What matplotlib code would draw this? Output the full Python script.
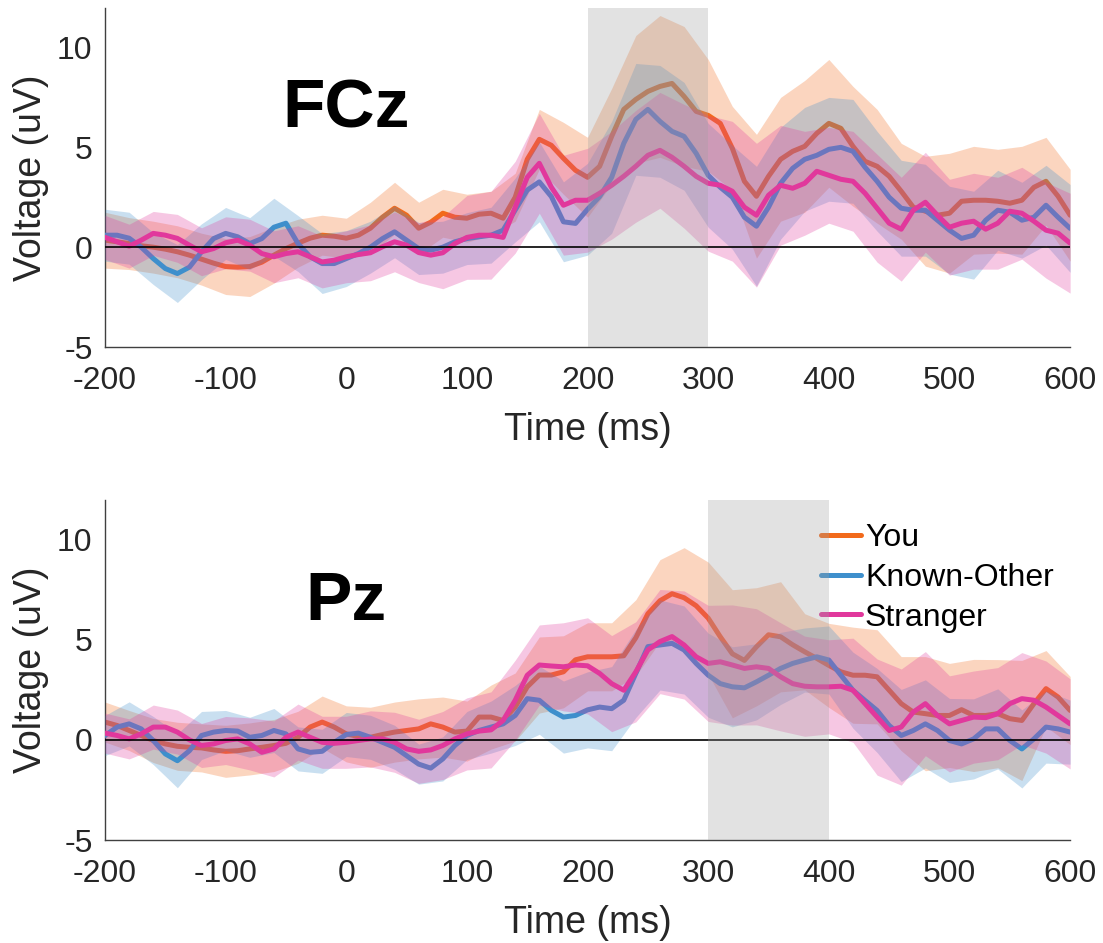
"""ERP waveforms at FCz and Pz for three conditions"""
import matplotlib
matplotlib.use('Agg')
import matplotlib.pyplot as plt

plt.rcParams['font.family'] = ['Liberation Sans', 'DejaVu Sans']
plt.rcParams['axes.unicode_minus'] = False

# time axis (ms): means every 10 ms, error bands every 20 ms
t_mean = list(range(-200, 601, 10))
t_band = list(range(-200, 601, 20))

labels = ['You', 'Known-Other', 'Stranger']
colors = ['#F26A1B', '#3E8FCC', '#E1389C']

# ---- FCz ----
fcz_you = [0.35, 0.27, 0.18, 0.07, 0.0, -0.1, -0.23, -0.4, -0.6, -0.8,
           -0.97, -1.0, -0.97, -0.75, -0.4, -0.07, 0.2, 0.45, 0.6, 0.55,
           0.45, 0.6, 0.95, 1.5, 1.95, 1.6, 0.95, 1.25, 1.7, 1.5,
           1.45, 1.65, 1.7, 1.45, 2.5, 4.4, 5.4, 5.1, 4.45, 3.85,
           3.5, 4.05, 5.55, 6.9, 7.4, 7.8, 8.05, 8.2, 7.55, 6.8,
           6.6, 6.2, 4.95, 3.3, 2.55, 3.55, 4.4, 4.8, 5.05, 5.7,
           6.2, 5.95, 5.05, 4.3, 4.05, 3.55, 2.8, 2.0, 1.8, 1.6,
           1.7, 2.3, 2.35, 2.35, 2.3, 2.2, 2.35, 3.0, 3.3, 2.55, 1.6]
fcz_known = [0.6, 0.6, 0.45, 0.0, -0.57, -1.07, -1.32, -1.0, -0.23, 0.43,
             0.69, 0.52, 0.18, 0.43, 1.0, 1.2, 0.18, -0.48, -0.82, -0.82,
             -0.57, -0.32, 0.0, 0.43, 0.77, 0.35, -0.07, -0.15, 0.0, 0.27,
             0.43, 0.52, 0.6, 0.85, 1.86, 2.86, 3.27, 2.53, 1.27, 1.19,
             1.9, 2.53, 3.5, 5.2, 6.4, 6.9, 6.3, 5.8, 5.55, 4.7,
             3.6, 3.0, 2.5, 1.5, 1.05, 2.0, 3.2, 3.95, 4.4, 4.6,
             4.9, 5.0, 4.8, 4.0, 3.3, 2.5, 1.95, 1.85, 1.85, 1.35,
             0.85, 0.44, 0.6, 1.35, 1.85, 1.75, 1.35, 1.5, 2.1, 1.5, 0.94]
fcz_stranger = [0.49, 0.27, 0.05, 0.35, 0.69, 0.6, 0.44, 0.1, -0.23, -0.07,
                0.22, 0.35, 0.1, -0.32, -0.48, -0.32, -0.23, -0.48, -0.74, -0.65,
                -0.48, -0.37, -0.28, 0.02, 0.27, 0.1, -0.27, -0.4, -0.28, 0.18,
                0.49, 0.6, 0.6, 0.49, 2.0, 3.5, 4.2, 3.0, 2.1, 2.35,
                2.35, 2.7, 3.1, 3.55, 4.05, 4.6, 4.85, 4.5, 4.05, 3.55,
                3.2, 3.1, 2.8, 2.0, 1.6, 2.6, 3.1, 2.95, 3.2, 3.8,
                3.6, 3.4, 3.3, 2.7, 1.95, 1.2, 0.9, 1.85, 2.25, 1.6,
                1.0, 1.2, 1.3, 0.9, 1.2, 1.8, 1.7, 1.3, 0.85, 0.7, 0.2]
fcz_you_sem = [1.4, 1.3, 1.3, 1.3, 1.3, 1.4, 1.5, 1.4, 1.2, 1.0, 1.0,
               1.3, 1.3, 1.3, 1.2, 1.2, 1.1, 1.2, 1.5, 1.8, 2.0, 2.4,
               3.2, 3.55, 3.5, 2.8, 2.1, 3.1, 3.1, 3.3, 3.2, 3.0, 2.85,
               2.4, 2.75, 3.0, 2.7, 2.6, 2.7, 2.2, 2.3]
fcz_known_sem = [1.3, 1.3, 1.3, 1.45, 1.4, 1.3, 1.3, 1.45, 1.4, 1.5, 1.4,
                 1.3, 1.3, 1.3, 1.3, 1.3, 1.4, 1.6, 2.0, 2.0, 2.3, 2.8,
                 2.8, 2.8, 2.7, 2.6, 2.6, 3.0, 2.8, 2.6, 2.6, 2.6, 2.5,
                 2.4, 2.3, 2.2, 2.2, 2.0, 1.9, 2.0, 2.2]
fcz_stranger_sem = [1.1, 1.1, 1.1, 1.2, 1.2, 1.3, 1.3, 1.3, 1.3, 1.3, 1.3,
                    1.4, 1.5, 1.5, 1.8, 2.1, 2.2, 2.3, 2.5, 2.5, 2.6, 2.7,
                    2.8, 2.9, 3.1, 3.4, 3.5, 3.6, 3.0, 2.6, 2.4, 2.5, 2.7,
                    2.6, 2.5, 2.4, 2.4, 2.3, 2.3, 2.4, 2.5]

# ---- Pz ----
pz_you = [0.89, 0.72, 0.47, 0.22, -0.03, -0.2, -0.32, -0.37, -0.4, -0.5,
          -0.57, -0.54, -0.45, -0.37, -0.28, -0.17, 0.13, 0.64, 0.89, 0.64,
          0.3, 0.17, 0.13, 0.27, 0.39, 0.47, 0.55, 0.8, 0.64, 0.39,
          0.44, 1.14, 1.14, 0.97, 1.64, 2.65, 3.24, 3.24, 3.4, 4.0,
          4.15, 4.15, 4.15, 4.2, 5.1, 6.3, 6.95, 7.3, 7.1, 6.7,
          6.08, 5.15, 4.3, 3.97, 4.65, 5.25, 5.15, 4.75, 4.4, 4.07,
          3.72, 3.4, 3.23, 3.23, 3.15, 2.48, 1.81, 1.39, 1.31, 1.22,
          1.22, 1.51, 1.22, 1.22, 1.31, 1.06, 0.97, 1.81, 2.56, 2.14, 1.47]
pz_known = [0.22, 0.64, 0.8, 0.55, -0.03, -0.7, -1.04, -0.54, 0.22, 0.39,
            0.47, 0.44, 0.13, 0.22, 0.47, 0.3, -0.45, -0.62, -0.57, -0.12,
            0.27, 0.34, 0.13, -0.12, -0.37, -0.79, -1.21, -1.41, -0.95, -0.28,
            0.22, 0.47, 0.64, 0.8, 1.22, 2.06, 1.98, 1.47, 1.14, 1.22,
            1.5, 1.64, 1.56, 1.98, 3.32, 4.66, 4.74, 4.82, 4.49, 3.82,
            3.23, 2.81, 2.65, 2.6, 2.9, 3.23, 3.57, 3.82, 3.99, 4.15,
            3.99, 3.23, 2.48, 1.97, 1.47, 0.72, 0.22, 0.47, 0.8, 0.47,
            -0.03, -0.2, 0.05, 0.55, 0.55, -0.03, -0.45, 0.05, 0.64, 0.55, 0.39]
pz_stranger = [0.34, 0.22, 0.05, 0.3, 0.64, 0.64, 0.39, 0.0, -0.28, -0.2,
               -0.03, 0.05, -0.2, -0.62, -0.45, 0.13, 0.39, 0.13, -0.12, -0.17,
               -0.12, -0.03, 0.05, 0.05, -0.12, -0.45, -0.57, -0.5, -0.28, 0.05,
               0.3, 0.44, 0.5, 0.97, 1.98, 3.23, 3.74, 3.69, 3.65, 3.74,
               3.7, 3.32, 2.81, 2.48, 3.4, 4.49, 4.91, 5.16, 4.74, 4.15,
               3.82, 3.9, 3.74, 3.57, 3.65, 3.57, 3.15, 2.81, 2.68, 2.65,
               2.65, 2.68, 2.48, 1.81, 1.14, 0.47, 0.64, 1.39, 1.81, 1.22,
               0.8, 0.97, 1.14, 1.11, 1.31, 1.81, 2.06, 1.98, 1.64, 1.22, 0.8]
pz_you_sem = [1.0, 1.0, 1.1, 1.2, 1.2, 1.3, 1.3, 1.3, 1.3, 1.3, 1.4,
              1.5, 1.5, 1.5, 1.5, 1.5, 1.6, 1.7, 1.9, 1.8, 1.7, 1.7,
              1.9, 2.05, 2.5, 2.8, 3.2, 2.95, 2.75, 1.9, 2.1, 2.4, 2.35,
              2.35, 2.85, 2.6, 2.8, 2.7, 3.0, 1.9, 1.7]
pz_known_sem = [1.0, 1.1, 1.2, 1.35, 1.2, 1.0, 1.0, 1.1, 1.1, 1.1, 1.1,
                1.1, 1.1, 1.0, 1.1, 1.2, 1.3, 1.5, 1.7, 1.8, 1.9, 2.1,
                2.2, 2.25, 2.2, 2.1, 2.0, 1.9, 1.8, 1.6, 1.7, 1.9, 2.1,
                2.3, 2.2, 2.1, 2.0, 2.0, 1.95, 1.8, 1.6]
pz_stranger_sem = [1.0, 1.0, 1.1, 1.1, 1.1, 1.2, 1.3, 1.4, 1.4, 1.3, 1.3,
                   1.4, 1.5, 1.6, 1.7, 1.8, 1.9, 2.0, 2.0, 2.2, 2.4, 2.4,
                   2.5, 2.6, 2.7, 2.9, 3.0, 2.9, 2.7, 2.5, 2.35, 2.6, 2.9,
                   2.9, 2.6, 2.4, 2.3, 2.3, 2.3, 2.3, 2.25]

panels = [
    ('FCz', (200, 300), [fcz_you, fcz_known, fcz_stranger],
     [fcz_you_sem, fcz_known_sem, fcz_stranger_sem]),
    ('Pz', (300, 400), [pz_you, pz_known, pz_stranger],
     [pz_you_sem, pz_known_sem, pz_stranger_sem]),
]

fig = plt.figure(figsize=(11.03, 9.43), dpi=100)
ax_rects = [[0.0952, 0.632, 0.875, 0.360], [0.0952, 0.1092, 0.875, 0.361]]

for rect, (name, window, means, sems) in zip(ax_rects, panels):
    ax = fig.add_axes(rect)
    # each series: band then line, later series drawn over earlier ones
    for i, (mean, sem, lab, col) in enumerate(zip(means, sems, labels, colors)):
        m_b = mean[::2]
        lo = [m - s for m, s in zip(m_b, sem)]
        hi = [m + s for m, s in zip(m_b, sem)]
        ax.fill_between(t_band, lo, hi, color=col, alpha=0.28, lw=0,
                        zorder=1 + 2 * i)
        ax.plot(t_mean, mean, color=col, lw=3.6, label=lab,
                solid_capstyle='round', zorder=2 + 2 * i)
    ax.axhline(0, color='k', lw=1.2, zorder=7)
    ax.axvspan(window[0], window[1], color='#a0a0a0', alpha=0.3, lw=0,
               zorder=8)
    ax.text(0, 6.9, name, ha='center', va='center', fontsize=50,
            fontweight='bold', zorder=9)
    ax.set_xlim(-200, 600)
    ax.set_ylim(-5, 12)
    ax.set_xticks(range(-200, 601, 100))
    ax.set_yticks([-5, 0, 5, 10])
    ax.tick_params(length=0, labelsize=23, colors='#262626')
    ax.tick_params(axis='x', pad=14)
    ax.tick_params(axis='y', pad=9)
    for s in ['top', 'right']:
        ax.spines[s].set_visible(False)
    for s in ['left', 'bottom']:
        ax.spines[s].set_color('#404040')
        ax.spines[s].set_linewidth(1.0)
    ax.set_xlabel('Time (ms)', fontsize=27, color='#262626', labelpad=11)
    ax.set_ylabel('Voltage (uV)', fontsize=27, color='#262626', labelpad=6)

leg = ax.legend(loc='upper left', bbox_to_anchor=(0.742, 0.93),
                frameon=False, fontsize=23, handlelength=1.25,
                handletextpad=0.12, labelspacing=0.3, borderpad=0,
                borderaxespad=0)

fig.savefig('out.png', dpi=100)
